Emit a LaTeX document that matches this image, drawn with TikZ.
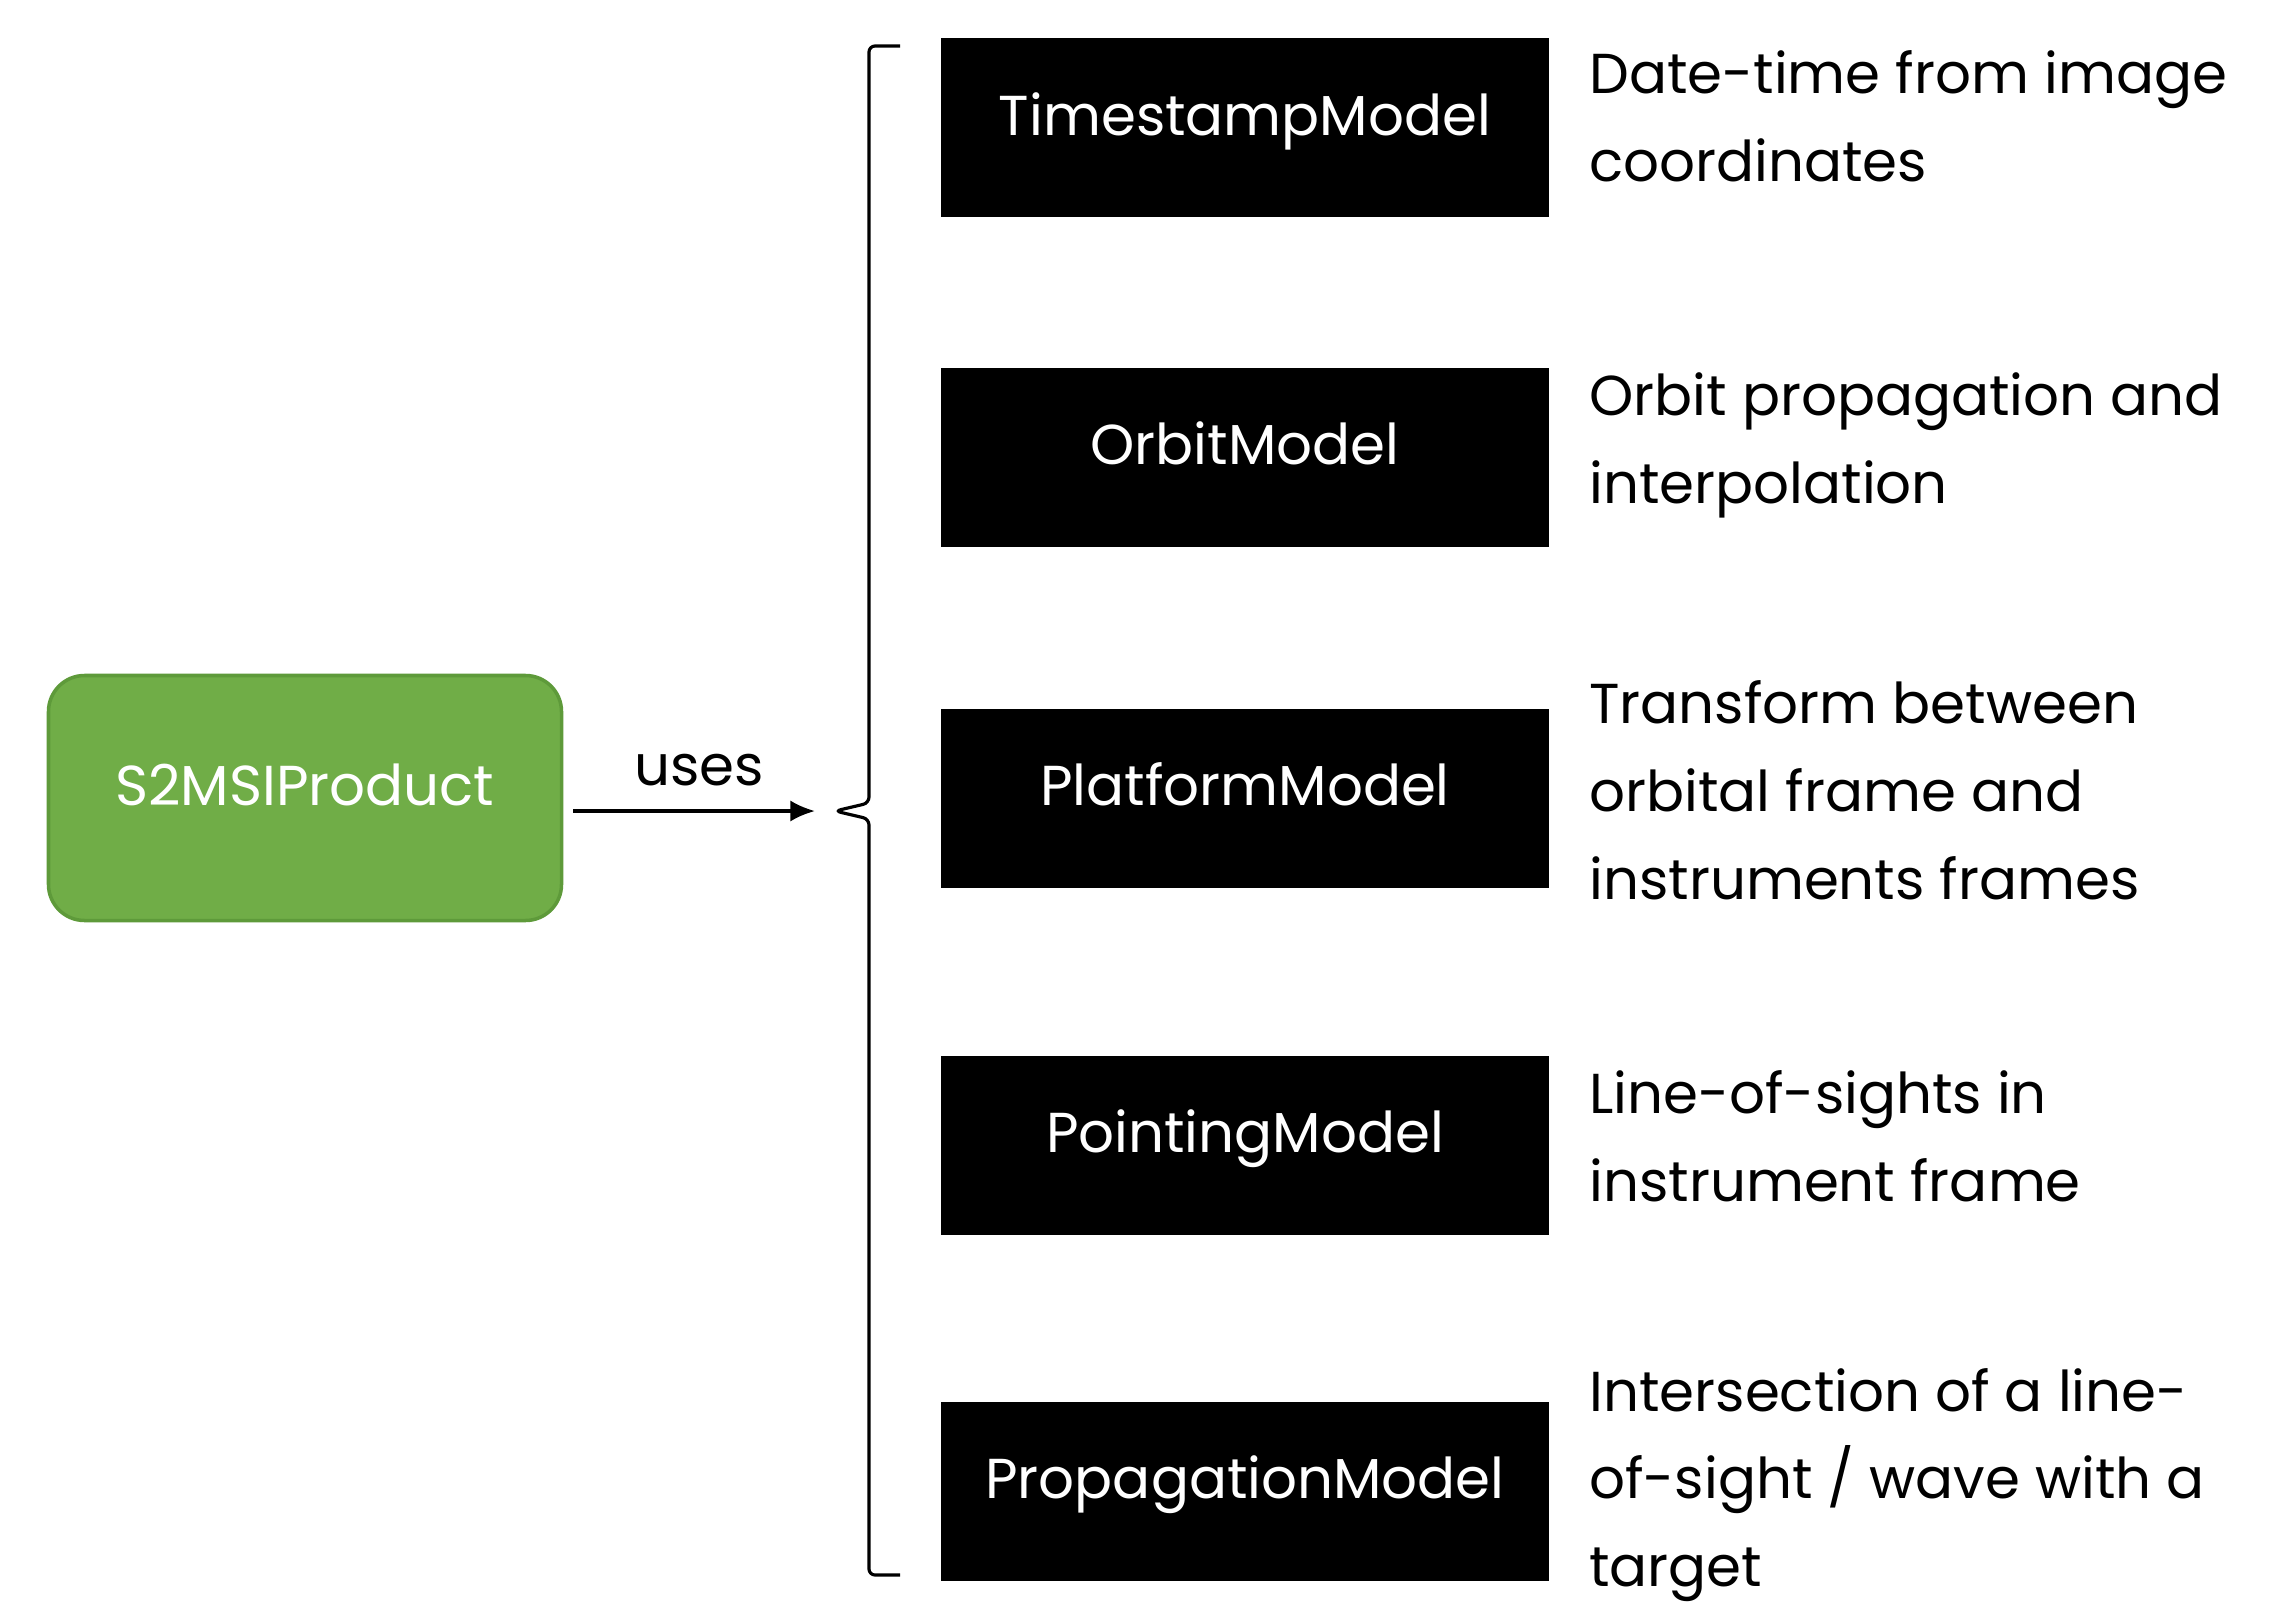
\documentclass[tikz,border=0pt]{standalone}
\usepackage{fontspec}
\setmainfont{Poppins}
\usetikzlibrary{arrows.meta,positioning}
\newcommand{\px}{0.01cm}
\definecolor{prodgreen}{HTML}{70AD47}
\definecolor{prodedge}{HTML}{5E9A3A}
\tikzset{
  product/.style={draw=prodedge, fill=prodgreen, text=white, line width=1pt,
    rounded corners=36*\px, minimum width=513*\px, minimum height=245*\px,
    text height=11pt, text depth=7pt, font=\fontsize{16}{25}\selectfont},
  model/.style={fill=black, text=white, minimum width=608*\px,
    minimum height=179*\px, text height=11pt, text depth=7pt,
    font=\fontsize{16}{25}\selectfont},
  desc/.style={align=left, inner sep=0pt, anchor=west,
    font=\fontsize{16}{25}\selectfont},
  brace/.style={line width=0.9pt, rounded corners=6*\px},
  uses/.style={-{Latex[length=7pt,width=6pt]}, line width=0.9pt}
}
\begin{document}
\begin{tikzpicture}[x=\px, y=-\px]
\useasboundingbox (0,0) rectangle (2270,1603);
% main product
\node[product] (prod) at (305,798) {S2MSIProduct};
% models
\node[model] (ts) at (1245,128) {TimestampModel};
\node[model] (orb) at (1245,457) {OrbitModel};
\node[model] (plat) at (1245,798) {PlatformModel};
\node[model] (poi) at (1245,1145) {PointingModel};
\node[model] (prop) at (1245,1491) {PropagationModel};
% descriptions
\node[desc, right=39*\px of ts, yshift=12*\px] (tsd) {Date-time from image\\coordinates};
\node[desc, right=39*\px of orb, yshift=12*\px] (orbd) {Orbit propagation and\\interpolation};
\node[desc, right=39*\px of plat, yshift=8*\px] (platd) {Transform between\\orbital frame and\\instruments frames};
\node[desc, right=39*\px of poi, yshift=9*\px] (poid) {Line-of-sights in\\instrument frame};
\node[desc, right=39*\px of prop, yshift=6*\px] (propd) {Intersection of a line-\\of-sight / wave with a\\target};
% brace
\coordinate (btop) at (869,46);
\coordinate (bbot) at (869,1575);
\coordinate (tip) at (835,811);
\draw[brace] (900,46) -- (btop) -- (869,803) -- (tip) -- (869,819) -- (bbot) -- (900,1575);
% arrow
\draw[uses, shorten <=10*\px, shorten >=20*\px] (prod.east |- tip) -- (tip)
  node[midway, above=12*\px, font=\fontsize{16}{25}\selectfont] {uses};
\end{tikzpicture}
\end{document}
